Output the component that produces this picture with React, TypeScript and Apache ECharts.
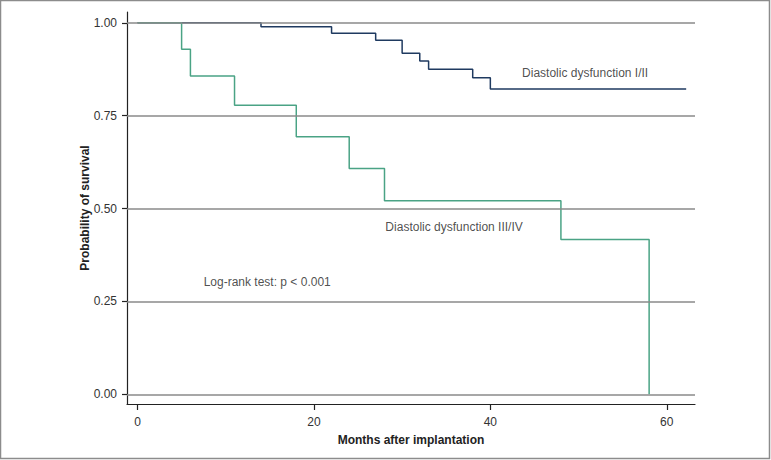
import React, { useEffect, useRef } from "react";
import * as echarts from "echarts";

const xTicks = [0, 20, 40, 60];
const yTicks = [0, 0.25, 0.5, 0.75, 1];

// Kaplan-Meier steps: [month, survival]
const groupI_II: [number, number][] = [
  [0, 1], [14, 0.989], [22, 0.972], [27, 0.953], [30, 0.918], [32, 0.897],
  [33, 0.875], [38, 0.852], [40, 0.822], [62.2, 0.822],
];
const groupIII_IV: [number, number][] = [
  [0, 1], [5, 0.929], [6, 0.857], [11, 0.778], [18, 0.693], [24, 0.608],
  [28, 0.521], [48, 0.417], [58, 0],
];

const annotations: { text: string; x: number; y: number }[] = [
  { text: "Diastolic dysfunction I/II", x: 43.6, y: 0.864 },
  { text: "Diastolic dysfunction III/IV", x: 28.1, y: 0.451 },
  { text: "Log-rank test: p < 0.001", x: 7.5, y: 0.302 },
];

const FONT = "Liberation Sans, Arial, sans-serif";

export default function App() {
  const ref = useRef<HTMLDivElement>(null);
  useEffect(() => {
    if (!ref.current) return;
    const chart = echarts.init(ref.current, null, { renderer: "svg" });
    chart.setOption({
      animation: false,
      backgroundColor: "#fff",
      graphic: [
        {
          type: "rect",
          shape: { x: 0.5, y: 0.5, width: 769, height: 458 },
          style: { fill: "none", stroke: "#8c8c8c", lineWidth: 1.5 },
          silent: true,
        },
      ],
      grid: { left: 127, right: 76, top: 12, bottom: 56 },
      xAxis: {
        type: "value",
        min: -1.19,
        max: 63.2,
        name: "Months after implantation",
        nameLocation: "middle",
        nameGap: 30,
        nameMoveOverlap: false,
        nameTextStyle: { fontFamily: FONT, fontSize: 12, fontWeight: "bold", color: "#222" },
        axisLine: { onZero: false, lineStyle: { color: "#222", width: 1.2 } },
        axisTick: { show: true, length: 6, customValues: xTicks, lineStyle: { color: "#222", width: 1.2 } },
        axisLabel: { customValues: xTicks, margin: 12, fontFamily: FONT, fontSize: 12, color: "#333" },
        splitLine: { show: false },
      },
      yAxis: {
        type: "value",
        min: -0.026,
        max: 1.029,
        name: "Probability of survival",
        nameLocation: "middle",
        nameGap: 36,
        nameMoveOverlap: false,
        nameTextStyle: { fontFamily: FONT, fontSize: 12, fontWeight: "bold", color: "#222" },
        axisLine: { show: true, onZero: false, lineStyle: { color: "#222", width: 1.2 } },
        axisTick: { show: true, length: 5, customValues: yTicks, lineStyle: { color: "#222", width: 1.2 } },
        axisLabel: {
          customValues: yTicks,
          margin: 10,
          fontFamily: FONT,
          fontSize: 12,
          color: "#333",
          formatter: (v: number) => v.toFixed(2),
        },
        splitLine: { show: false },
      },
      series: [
        {
          type: "line",
          data: [],
          silent: true,
          markLine: {
            silent: true,
            symbol: "none",
            label: { show: false },
            lineStyle: { color: "#8a8a8a", width: 1.5, type: "solid" },
            data: yTicks.map((v) => ({ yAxis: v })),
          },
        },
        {
          name: "Diastolic dysfunction I/II",
          type: "line",
          step: "end",
          data: groupI_II,
          showSymbol: false,
          symbol: "none",
          lineStyle: { color: "#1f3a60", width: 1.5 },
          z: 3,
        },
        {
          name: "Diastolic dysfunction III/IV",
          type: "line",
          step: "end",
          data: groupIII_IV,
          showSymbol: false,
          symbol: "none",
          lineStyle: { color: "#4aa385", width: 1.5 },
          z: 4,
        },
        {
          type: "scatter",
          symbolSize: 0,
          silent: true,
          data: annotations.map((a) => ({ value: [a.x, a.y], name: a.text })),
          label: {
            show: true,
            position: "right",
            distance: 0,
            formatter: (p: any) => p.name,
            fontFamily: FONT,
            fontSize: 12,
            color: "#222",
          },
          z: 5,
        },
      ],
    });
    return () => chart.dispose();
  }, []);
  return (
    <div
      ref={ref}
      style={{ position: "fixed", left: 0, top: 0, width: 771, height: 460 }}
    />
  );
}
